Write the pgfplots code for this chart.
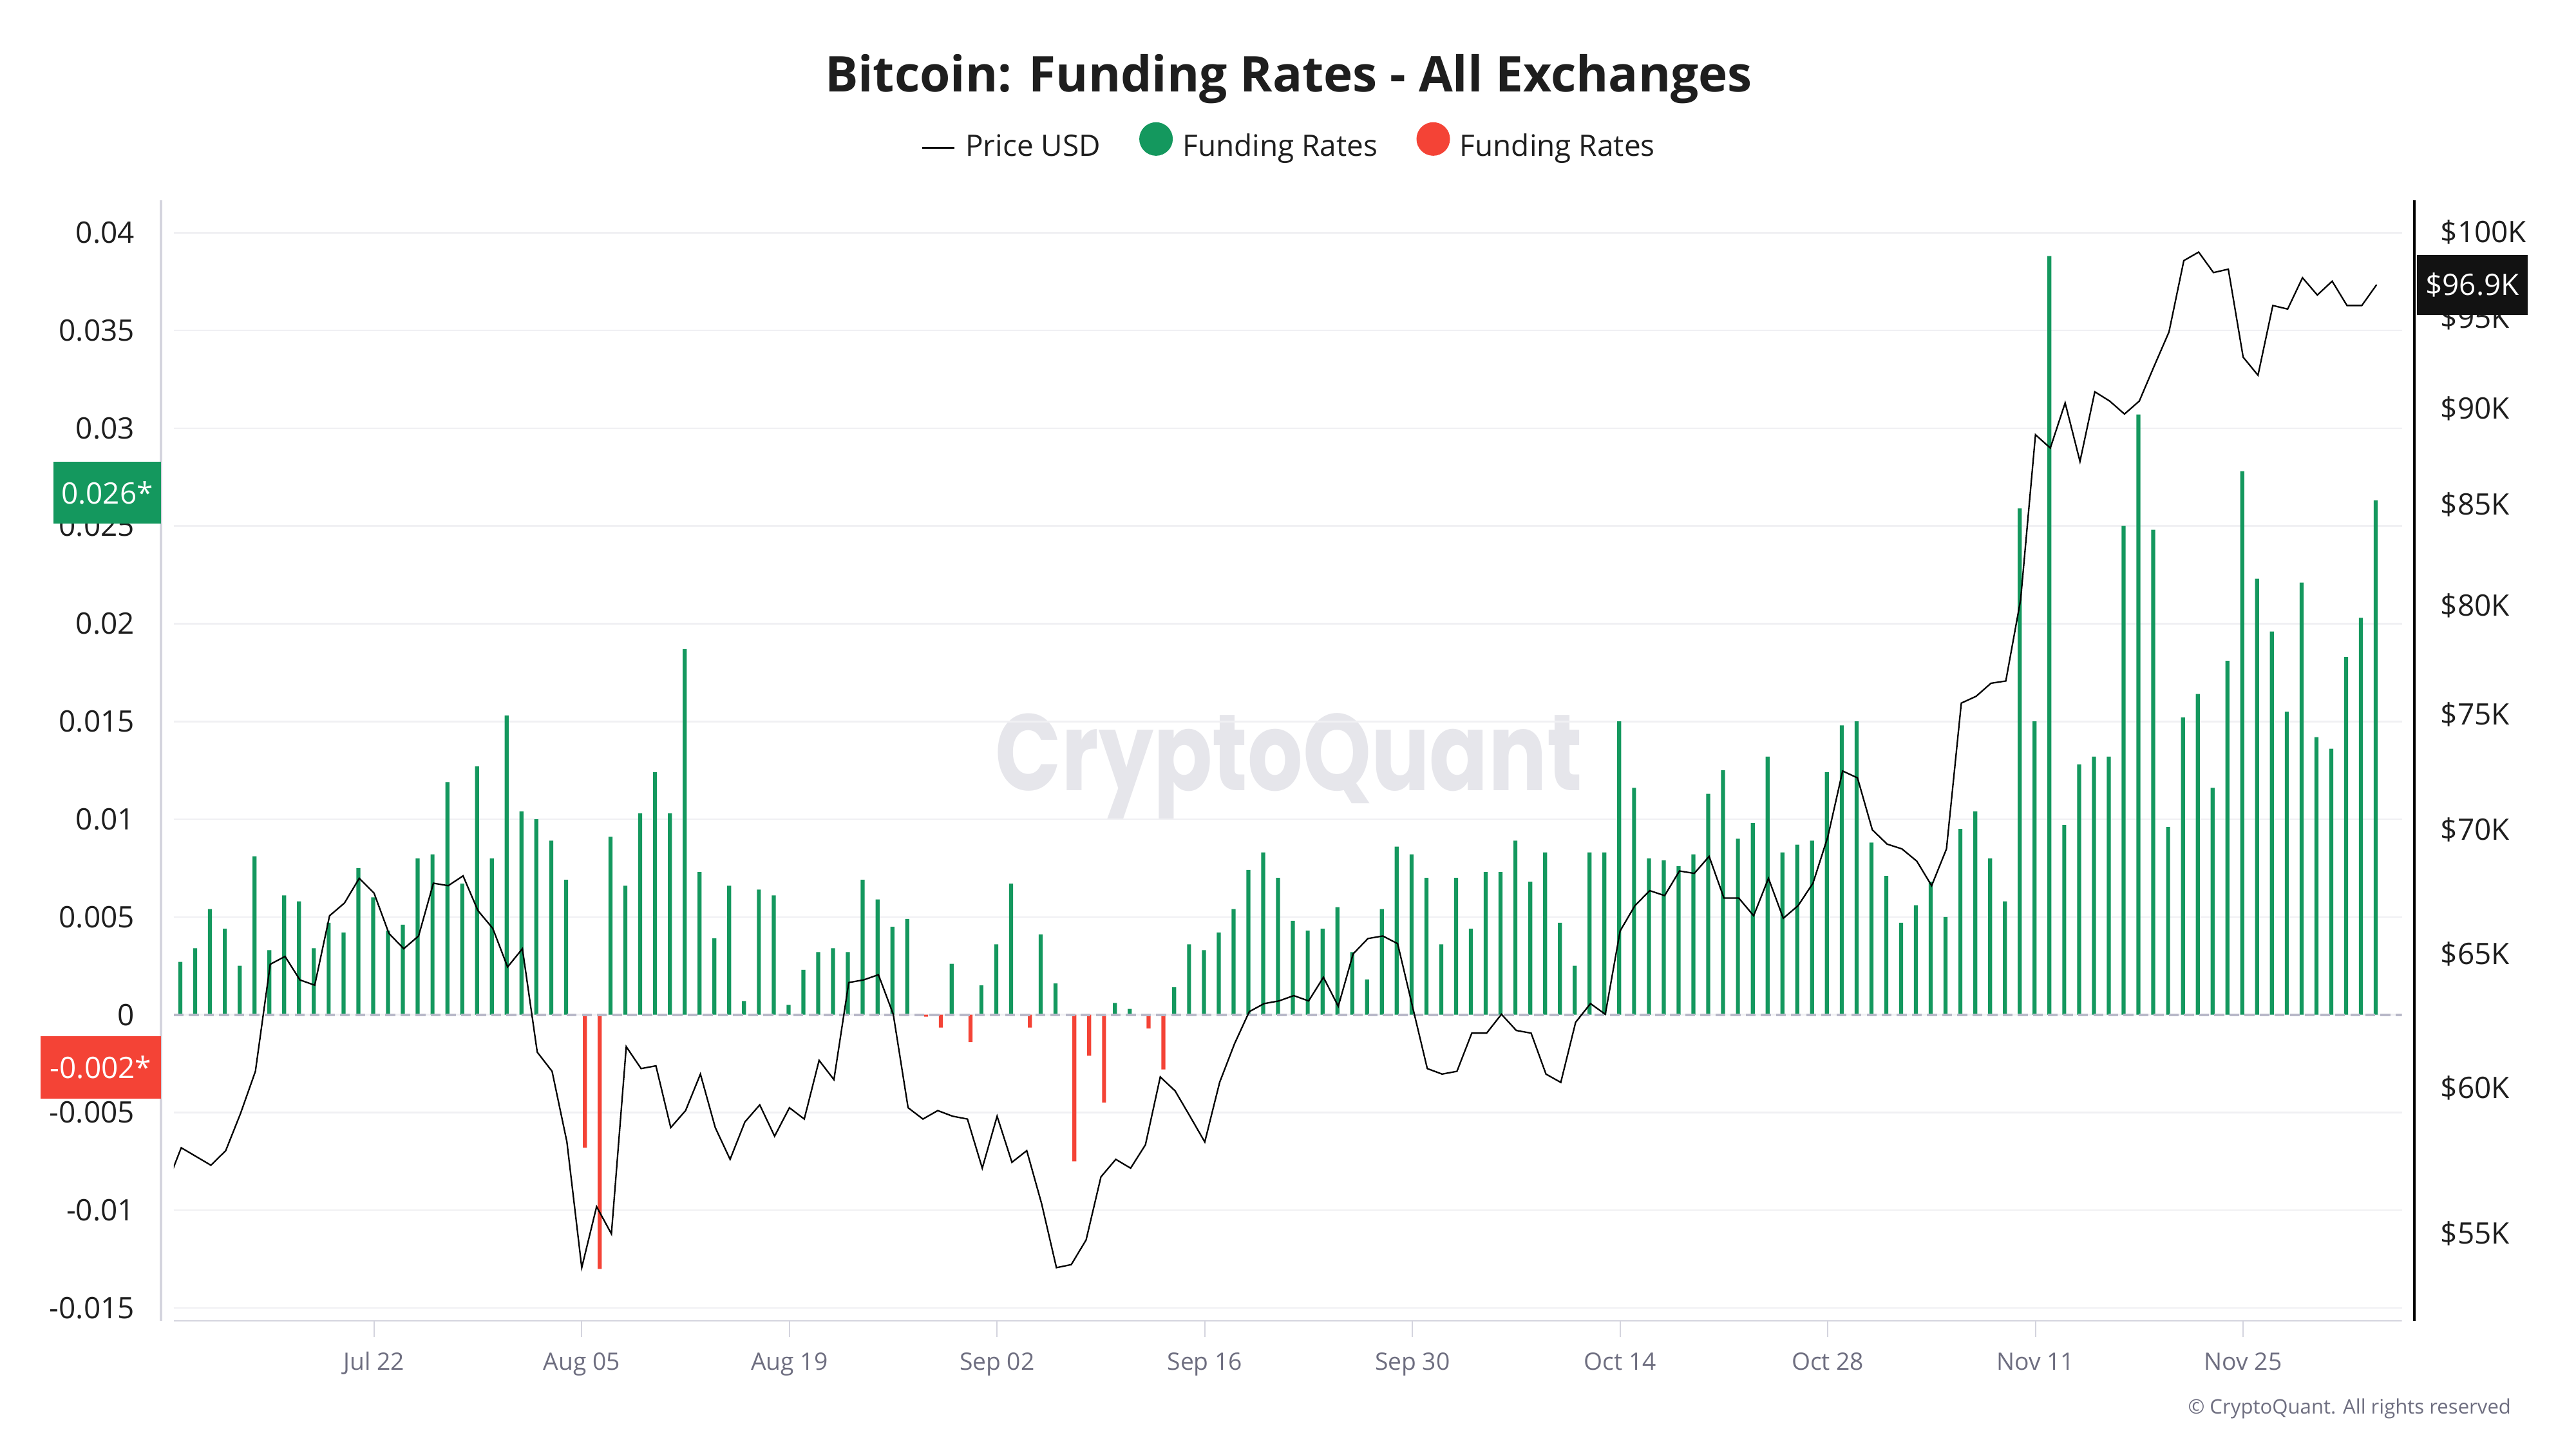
\documentclass[border=0pt]{standalone}
\usepackage{pgfplots}
\usepackage{pgfplotstable}
\pgfplotsset{compat=1.18}
\usepackage{fontspec}
\setmainfont{Open Sans}
\newfontfamily\wmfont{Poppins}
\usepackage{graphicx}
\definecolor{frgreen}{HTML}{14985E}
\definecolor{frred}{HTML}{F44336}
\definecolor{gridc}{HTML}{F0F0F3}
\definecolor{axc}{HTML}{D4D4DE}
\definecolor{zeroc}{HTML}{B8B8C8}
\definecolor{xlab}{HTML}{6E6E80}
\definecolor{labc}{HTML}{1E1E1E}
\definecolor{wmc}{HTML}{E6E6EB}

% funding rates (fr), plotted in units of 0.001
\pgfplotstableread{
d fr
0 0.0027
1 0.0034
2 0.0054
3 0.0044
4 0.0025
5 0.0081
6 0.0033
7 0.0061
8 0.0058
9 0.0034
10 0.0047
11 0.0042
12 0.0075
13 0.0060
14 0.0043
15 0.0046
16 0.0080
17 0.0082
18 0.0119
19 0.0067
20 0.0127
21 0.0080
22 0.0153
23 0.0104
24 0.0100
25 0.0089
26 0.0069
27 -0.0068
28 -0.0130
29 0.0091
30 0.0066
31 0.0103
32 0.0124
33 0.0103
34 0.0187
35 0.0073
36 0.0039
37 0.0066
38 0.0007
39 0.0064
40 0.0061
41 0.0005
42 0.0023
43 0.0032
44 0.0034
45 0.0032
46 0.0069
47 0.0059
48 0.0045
49 0.0049
50 -0.0001
51 -0.00066
52 0.0026
53 -0.0014
54 0.0015
55 0.0036
56 0.0067
57 -0.00066
58 0.0041
59 0.0016
60 -0.0075
61 -0.0021
62 -0.0045
63 0.0006
64 0.0003
65 -0.0007
66 -0.0028
67 0.0014
68 0.0036
69 0.0033
70 0.0042
71 0.0054
72 0.0074
73 0.0083
74 0.0070
75 0.0048
76 0.0043
77 0.0044
78 0.0055
79 0.0032
80 0.0018
81 0.0054
82 0.0086
83 0.0082
84 0.0070
85 0.0036
86 0.0070
87 0.0044
88 0.0073
89 0.0073
90 0.0089
91 0.0068
92 0.0083
93 0.0047
94 0.0025
95 0.0083
96 0.0083
97 0.0150
98 0.0116
99 0.0080
100 0.0079
101 0.0076
102 0.0082
103 0.0113
104 0.0125
105 0.0090
106 0.0098
107 0.0132
108 0.0083
109 0.0087
110 0.0089
111 0.0124
112 0.0148
113 0.0150
114 0.0088
115 0.0071
116 0.0047
117 0.0056
118 0.0068
119 0.0050
120 0.0095
121 0.0104
122 0.0080
123 0.0058
124 0.0259
125 0.0150
126 0.0388
127 0.0097
128 0.0128
129 0.0132
130 0.0132
131 0.0250
132 0.0307
133 0.0248
134 0.0096
135 0.0152
136 0.0164
137 0.0116
138 0.0181
139 0.0278
140 0.0223
141 0.0196
142 0.0155
143 0.0221
144 0.0142
145 0.0136
146 0.0183
147 0.0203
148 0.0263
}\frtable

% BTC price in thousands of USD
\pgfplotstableread{
d p
-1 56.6
0 57.9
1 57.6
2 57.3
3 57.8
4 59.1
5 60.6
6 64.6
7 64.9
8 64.0
9 63.8
10 66.5
11 67.0
12 68.0
13 67.4
14 65.8
15 65.2
16 65.7
17 67.8
18 67.7
19 68.1
20 66.7
21 66.0
22 64.5
23 65.2
24 61.3
25 60.6
26 58.1
27 53.9
28 55.9
29 55.0
30 61.5
31 60.7
32 60.8
33 58.6
34 59.2
35 60.5
36 58.6
37 57.5
38 58.8
39 59.4
40 58.3
41 59.3
42 58.9
43 61.0
44 60.3
45 63.9
46 64.0
47 64.2
48 62.7
49 59.3
50 58.9
51 59.2
52 59.0
53 58.9
54 57.2
55 59.0
56 57.4
57 57.8
58 56.0
59 53.9
60 54.0
61 54.8
62 56.9
63 57.5
64 57.2
65 58.0
66 60.4
67 59.9
68 59.0
69 58.1
70 60.2
71 61.6
72 62.8
73 63.1
74 63.2
75 63.4
76 63.2
77 64.1
78 63.0
79 65.0
80 65.6
81 65.7
82 65.4
83 63.0
84 60.7
85 60.5
86 60.6
87 62.0
88 62.0
89 62.7
90 62.1
91 62.0
92 60.5
93 60.2
94 62.4
95 63.1
96 62.7
97 65.9
98 66.9
99 67.5
100 67.3
101 68.3
102 68.2
103 68.9
104 67.2
105 67.2
106 66.5
107 68.0
108 66.4
109 66.9
110 67.8
111 69.7
112 72.5
113 72.2
114 70.0
115 69.4
116 69.2
117 68.7
118 67.7
119 69.2
120 75.5
121 75.8
122 76.4
123 76.5
124 80.3
125 88.6
126 87.9
127 90.3
128 87.2
129 90.9
130 90.4
131 89.7
132 90.4
133 92.3
134 94.2
135 98.3
136 98.8
137 97.6
138 97.8
139 92.8
140 91.8
141 95.7
142 95.5
143 97.3
144 96.3
145 97.1
146 95.7
147 95.7
148 96.9
}\ptable

\begin{document}
\begin{tikzpicture}
\path[use as bounding box, fill=white] (0pt,0pt) rectangle (784pt,441pt);
% watermark
\node[anchor=base, text=wmc, inner sep=0pt] at (392.25pt,200.5pt)
  {\resizebox{178.5pt}{\height}{\wmfont\bfseries\fontsize{33}{33}\selectfont CryptoQuant}};
% title
\node[anchor=base, inner sep=0pt, text=labc, font=\fontsize{15}{15}\selectfont\bfseries] at (392.2pt,413.05pt)
  {Bitcoin: Funding Rates - All Exchanges};
% credits
\node[anchor=east, inner sep=0pt, text=xlab, font=\fontsize{6.1}{7}\selectfont] at (764.4pt,12.35pt)
  {© CryptoQuant. All rights reserved};

\begin{axis}[
  at={(52.9pt,39pt)}, anchor=south west,
  width=678.1pt, height=341pt, scale only axis,
  xmin=-0.5, xmax=149.7,
  ymin=-15.66, ymax=41.65,
  axis line style={draw=none},
  ytick={-15,-10,-5,0,5,10,15,20,25,30,35,40},
  yticklabels={-0.015,-0.01,-0.005,0,0.005,0.01,0.015,0.02,0.025,0.03,0.035,0.04},
  xtick={13,27,41,55,69,83,97,111,125,139},
  xticklabels={Jul 22,Aug 05,Aug 19,Sep 02,Sep 16,Sep 30,Oct 14,Oct 28,Nov 11,Nov 25},
  xtick pos=left, ytick pos=left,
  tick align=outside,
  major tick length=4.8pt,
  xtick style={draw=axc, line width=0.45pt},
  ytick style={draw=none},
  ymajorgrids, major grid style={draw=gridc, line width=0.5pt},
  yticklabel style={anchor=east, inner sep=0pt, text=labc, font=\fontsize{9}{9}\selectfont, xshift=-6.95pt},
  xticklabel style={anchor=base, inner sep=0pt, text=xlab, font=\fontsize{7.3}{7.3}\selectfont, yshift=-10.2pt},
]
\addplot[ybar, bar width=0.27, bar shift=0pt, fill=frgreen, draw=none, restrict y to domain=0:100]
  table[x expr=\thisrow{d}-0.06, y expr=\thisrow{fr}*1000] {\frtable};
\addplot[ybar, bar width=0.27, bar shift=0pt, fill=frred, draw=none, restrict y to domain=-100:0]
  table[x expr=\thisrow{d}+0.21, y expr=\thisrow{fr}*1000] {\frtable};
\draw[zeroc, line width=0.8pt, dash pattern=on 3pt off 1.6pt] (rel axis cs:0,0.27325) -- (rel axis cs:1,0.27325);
\draw[axc, line width=0.5pt] (rel axis cs:0,0) -- (rel axis cs:1,0);
\coordinate (ll) at (rel axis cs:0,0);
\coordinate (ul) at (rel axis cs:0,1);
\coordinate (lr) at (rel axis cs:1,0);
\coordinate (ur) at (rel axis cs:1,1);
\coordinate (gbox) at (axis cs:-0.5,26.7);
\coordinate (rbox) at (axis cs:-0.5,-2.7);
\end{axis}

\begin{axis}[
  at={(52.9pt,39pt)}, anchor=south west,
  width=678.1pt, height=341pt, scale only axis,
  xmin=-0.5, xmax=149.7,
  ymode=log, ymin=52.22, ymax=101.9,
  axis line style={draw=none},
  xtick=\empty,
  ytick={55,60,65,70,75,80,85,90,95,100},
  yticklabels={\$55K,\$60K,\$65K,\$70K,\$75K,\$80K,\$85K,\$90K,\$95K,\$100K},
  yticklabel pos=right,
  ytick style={draw=none},
  yticklabel style={anchor=west, inner sep=0pt, text=labc, font=\fontsize{9}{9}\selectfont, xshift=11.6pt},
  legend style={draw=none, fill=none, at={(0.50015,1.0524)}, anchor=center, legend columns=3,
    font=\fontsize{9}{11}\selectfont, text=labc, inner sep=0pt,
    nodes={inner sep=0pt},
    /tikz/every odd column/.append style={column sep=3pt},
    /tikz/every even column/.append style={column sep=11.8pt}},
  legend cell align=left,
]
\addplot[black, line width=0.45pt, mark=none,
  legend image code/.code={\draw[black, line width=0.6pt] (0pt,-0.5pt) -- (9.8pt,-0.5pt);}]
  table[x=d, y=p] {\ptable};
\addlegendentry{\strut Price USD}
\addlegendimage{legend image code/.code={\fill[frgreen] (4.9pt,2.1pt) circle (4.9pt);}}
\addlegendentry{\strut Funding Rates}
\addlegendimage{legend image code/.code={\fill[frred] (4.9pt,2.1pt) circle (4.9pt);}}
\addlegendentry{\strut Funding Rates}
\coordinate (pbox) at (axis cs:149.7,96.9);
\end{axis}

% axis lines outside the clipped plot area
\draw[axc, line width=0.6pt] ([xshift=-3.9pt]ll) -- ([xshift=-3.9pt]ul);
\draw[black, line width=0.8pt] ([xshift=3.85pt]lr) -- ([xshift=3.85pt]ur);

\node[anchor=east, fill=frgreen, text=white, minimum width=32.75pt, minimum height=18.85pt, inner sep=0pt,
  font=\fontsize{9}{9}\selectfont] at ([xshift=-3.7pt]gbox) {0.026*};
\node[anchor=east, fill=frred, text=white, minimum width=36.65pt, minimum height=18.85pt, inner sep=0pt,
  font=\fontsize{9}{9}\selectfont] at ([xshift=-3.7pt]rbox) {-0.002*};
\node[anchor=west, fill=black!93, text=white, minimum width=33.85pt, minimum height=18.25pt, inner sep=0pt,
  font=\fontsize{9}{9}\selectfont] at ([xshift=4.3pt]pbox) {\$96.9K};
\end{tikzpicture}
\end{document}
